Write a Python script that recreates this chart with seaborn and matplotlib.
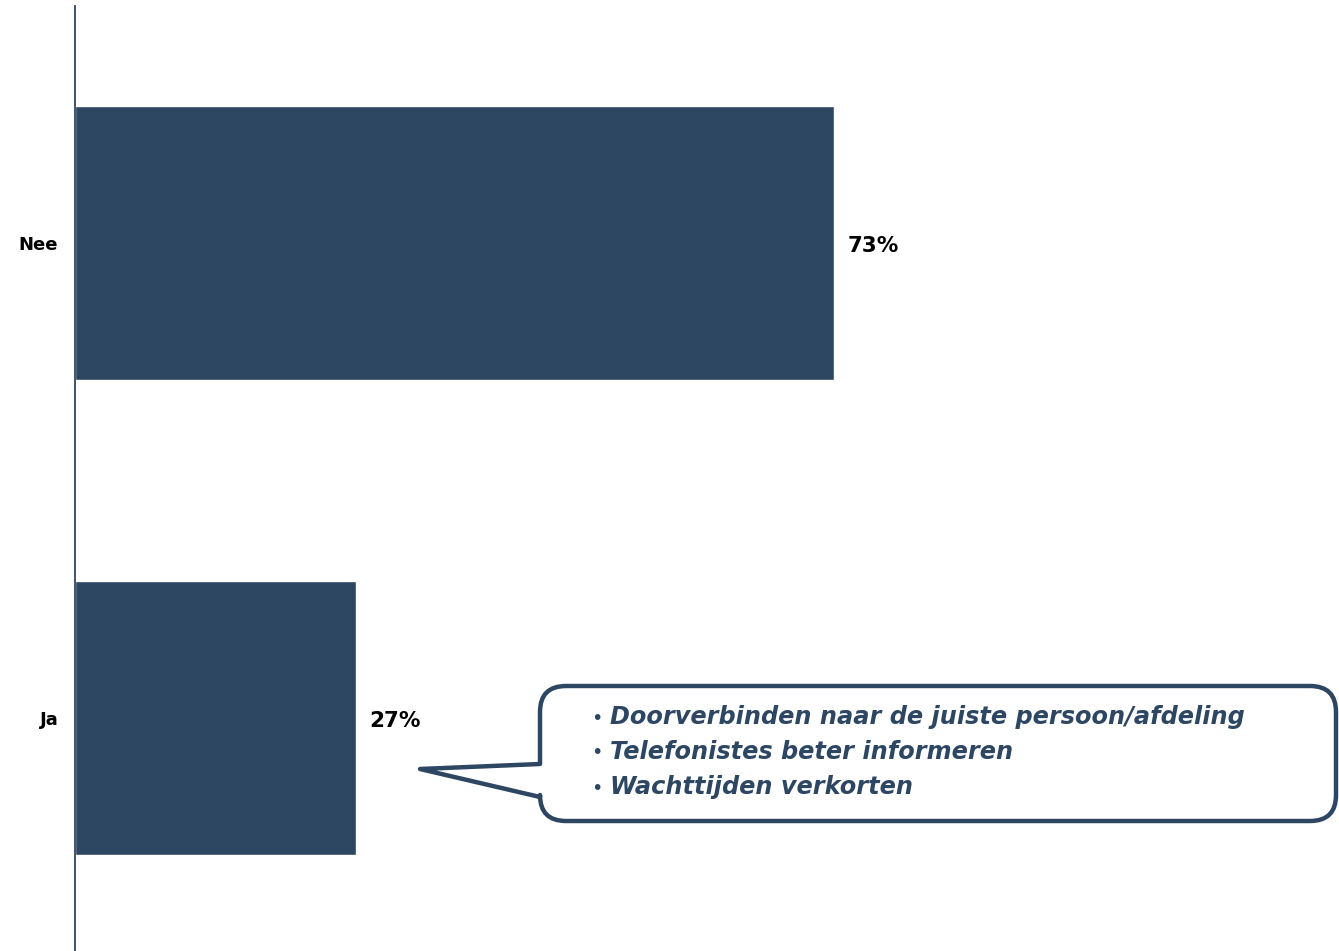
import matplotlib
matplotlib.use("Agg")
import matplotlib.pyplot as plt
from matplotlib.path import Path
from matplotlib.patches import PathPatch
from matplotlib.transforms import Affine2D
import seaborn as sns
import pandas as pd

categories = ["Nee", "Ja"]
values = [73, 27]
value_labels = ["73%", "27%"]
callout_lines = [
    "Doorverbinden naar de juiste persoon/afdeling",
    "Telefonistes beter informeren",
    "Wachttijden verkorten",
]

BAR = "#2d4662"
W, H = 1339, 951

sns.set_theme(style="white")
plt.rcParams["font.family"] = ["DejaVu Sans"]

fig = plt.figure(figsize=(W / 100, H / 100), dpi=100)
ax = fig.add_axes([75 / W, -4.5 / H, (W - 75) / W, 950 / H])

df = pd.DataFrame({"answer": categories, "share": values})
sns.barplot(data=df, x="share", y="answer", orient="h", color=BAR,
            saturation=1, width=0.575, ax=ax)

ax.set_xlim(0, (W - 75) / 10.4)
ax.set_ylim(1.5, -0.5)
ax.set_xlabel("")
ax.set_ylabel("")
ax.set_xticks([])
for side in ("top", "right", "bottom"):
    ax.spines[side].set_visible(False)
ax.spines["left"].set_color(BAR)
ax.spines["left"].set_linewidth(1.3)
ax.tick_params(axis="y", length=0, pad=12)
for lbl in ax.get_yticklabels():
    lbl.set_fontweight("bold")
    lbl.set_fontsize(13)
    lbl.set_color("black")

anns = ax.bar_label(ax.containers[0], labels=value_labels, padding=10,
                    fontsize=15.5, fontweight="bold", color="black")
for a in anns:
    a.xyann = (10, -2.5)

# speech-bubble callout in pixel coordinates (origin top-left)
px = Affine2D().scale(1 / W, -1 / H).translate(0, 1) + fig.transFigure
x0, x1, y0, y1, r = 540, 1336, 686, 821, 26
tip = (420, 769)
verts = [
    (x0 + r, y0), (x1 - r, y0), (x1, y0), (x1, y0 + r),
    (x1, y1 - r), (x1, y1), (x1 - r, y1),
    (x0 + r, y1), (x0, y1), (x0, y1 - r),
    (x0, 797), tip, (x0, 764),
    (x0, y0 + r), (x0, y0), (x0 + r, y0), (x0 + r, y0),
]
codes = [
    Path.MOVETO, Path.LINETO, Path.CURVE3, Path.CURVE3,
    Path.LINETO, Path.CURVE3, Path.CURVE3,
    Path.LINETO, Path.CURVE3, Path.CURVE3,
    Path.LINETO, Path.LINETO, Path.LINETO,
    Path.LINETO, Path.CURVE3, Path.CURVE3, Path.CLOSEPOLY,
]
bubble = PathPatch(Path(verts, codes), transform=px, facecolor="white",
                   edgecolor=BAR, linewidth=3.2, joinstyle="round",
                   clip_on=False)
fig.add_artist(bubble)

for i, line in enumerate(callout_lines):
    y = 717 + 35 * i
    fig.text(591, y + 1, "•", transform=px, fontsize=14, color=BAR,
             va="center", ha="left")
    fig.text(610, y, line, transform=px, fontsize=17.3, color=BAR,
             fontweight="bold", fontstyle="italic", va="center", ha="left")

fig.savefig("out.png", dpi=100, facecolor="white")
